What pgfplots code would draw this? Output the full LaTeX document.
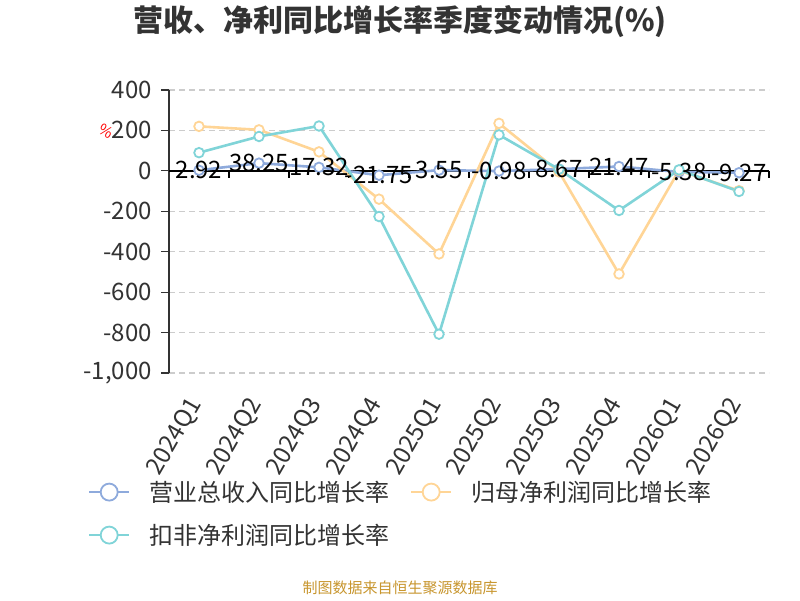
\documentclass[border=0pt]{standalone}
\usepackage{fontspec}
\setmainfont{Noto Sans CJK SC}
\usepackage{pgfplots}
\pgfplotsset{compat=1.18}
\definecolor{cblue}{HTML}{8EAADC}
\definecolor{corange}{HTML}{FFD596}
\definecolor{cteal}{HTML}{80D4D8}
\definecolor{ctext}{HTML}{333333}
\definecolor{cgrid}{HTML}{CCCCCC}
\definecolor{csrc}{HTML}{C8962E}
\begin{document}
\begin{tikzpicture}
\useasboundingbox[fill=white] (0,0) rectangle (800pt,600pt);
\node[font=\bfseries\fontsize{30}{30}\selectfont, text=ctext] at (400pt,578pt) {营收、净利同比增长率季度变动情况(\%)};
\node[font=\fontsize{15}{15}\selectfont, text=csrc] at (400pt,12pt) {制图数据来自恒生聚源数据库};
\node[font=\fontsize{15}{15}\selectfont, text=red, rotate=-30] at (106pt,469pt) {\%};
\begin{axis}[
  at={(169pt,227pt)}, anchor=south west,
  scale only axis, width=600pt, height=283pt,
  xmin=-0.5, xmax=9.5, ymin=-1000, ymax=400,
  clip=false,
  axis x line*=bottom, axis y line*=left,
  x axis line style={draw=none},
  y axis line style={ctext, line width=1.5pt},
  xtick={0,...,9},
  xticklabels={2024Q1,2024Q2,2024Q3,2024Q4,2025Q1,2025Q2,2025Q3,2025Q4,2026Q1,2026Q2},
  xtick style={draw=none},
  ytick={-1000,-800,-600,-400,-200,0,200,400},
  yticklabels={{-1,000},-800,-600,-400,-200,0,200,400},
  ytick style={ctext, line width=1.2pt},
  tick align=outside, major tick length=8pt,
  ymajorgrids, grid style={cgrid, dash pattern=on 6pt off 4pt, line width=1.2pt},
  tick label style={font=\fontsize{24}{24}\selectfont, text=ctext},
  yticklabel style={anchor=east, inner sep=0pt, xshift=-9pt},
  xticklabel style={font=\fontsize{24}{24}\selectfont, anchor=east, inner sep=0pt, xshift=-3pt, yshift=-19pt, rotate=60},
  legend columns=2,
  legend cell align=left,
  legend style={draw=none, fill=none, at={(-0.135,-0.371)}, anchor=north west,
    inner sep=0pt, row sep=15.2pt,
    font=\fontsize{24}{24}\selectfont, text=ctext,
    nodes={inner sep=0pt, text height=23pt, text depth=4.8pt},
    /tikz/every odd column/.append style={column sep=19pt},
    /tikz/every even column/.append style={column sep=21pt}},
  legend image code/.code={
    \draw[#1, mark=none, line width=2pt] (0pt,0pt) -- (40pt,0pt);
    \draw[#1, mark=none, fill=white, line width=1.8pt] (20pt,0pt) circle (8.5pt);
  },
  every axis plot/.append style={line width=2.6pt, mark=*, mark size=4.8pt, mark options={fill=white, line width=1.8pt}},
]
\draw[black, line width=1.5pt] (axis cs:-0.5,0) -- (axis cs:9.5,0);
\pgfplotsinvokeforeach{0.5,1.5,2.5,3.5,4.5,5.5,6.5,7.5,8.5,9.5}{
  \draw[black, line width=1.2pt] (axis cs:#1,0) -- ++(0pt,-7pt);
}
\addplot[cblue] coordinates {(0,2.92) (1,38.25) (2,17.32) (3,-21.75) (4,3.55) (5,-0.98) (6,8.67) (7,21.47) (8,-5.38) (9,-9.27)};
\addlegendentry{营业总收入同比增长率}
\addplot[corange] coordinates {(0,220) (1,203) (2,94) (3,-140) (4,-411) (5,235) (6,-5) (7,-510) (8,2) (9,-98)};
\addlegendentry{归母净利润同比增长率}
\addplot[cteal] coordinates {(0,90) (1,170) (2,222) (3,-226) (4,-808) (5,178) (6,8) (7,-196) (8,5) (9,-102)};
\addlegendentry{扣非净利润同比增长率}
\addplot[draw=none, mark=none, forget plot, nodes near coords, point meta=explicit symbolic,
  nodes near coords align={anchor=center},
  every node near coord/.append style={font=\fontsize{24}{24}\selectfont, text=black, inner sep=0pt, anchor=center}]
  coordinates {(0,2.92) [2.92] (1,38.25) [38.25] (2,17.32) [17.32] (3,-21.75) [-21.75] (4,3.55) [3.55] (5,-0.98) [-0.98] (6,8.67) [8.67] (7,21.47) [21.47] (8,-5.38) [-5.38] (9,-9.27) [-9.27]};
\end{axis}
\end{tikzpicture}
\end{document}
